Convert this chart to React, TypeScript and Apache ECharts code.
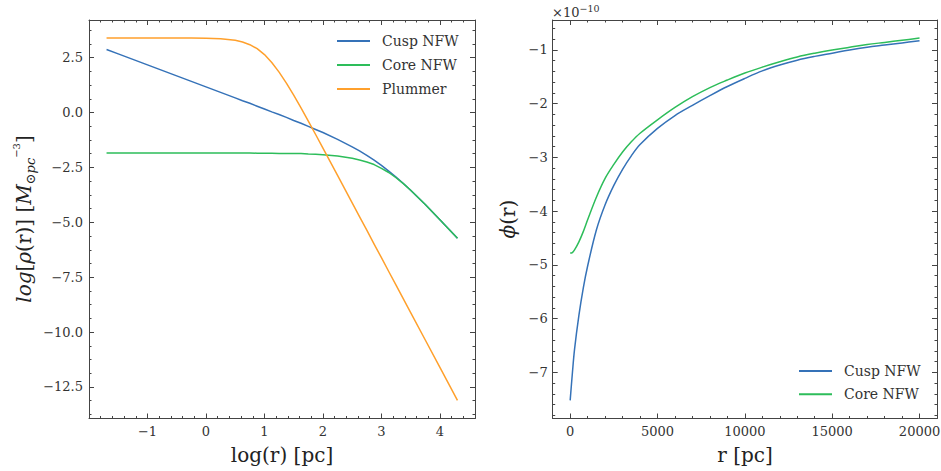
import React, { useEffect, useRef } from "react";
import * as echarts from "echarts";

// ---------- data: left panel (log density vs log radius) ----------
const logR = [
  -1.7, -1.5, -1.25, -1.0, -0.75, -0.5, -0.25, 0, 0.25, 0.5, 0.625, 0.75, 0.875, 1.0, 1.125, 1.25, 1.375, 1.5,
  1.625, 1.75, 1.875, 2.0, 2.25, 2.5, 2.625, 2.75, 2.875, 3.0, 3.125, 3.25, 3.375, 3.5, 3.75, 4.0, 4.15, 4.3,
];
const cuspRho = [
  2.87, 2.67, 2.42, 2.17, 1.92, 1.67, 1.42, 1.17, 0.92, 0.67, 0.54, 0.42, 0.29, 0.16, 0.03, -0.09, -0.22, -0.36,
  -0.49, -0.63, -0.77, -0.91, -1.22, -1.56, -1.75, -1.95, -2.17, -2.41, -2.67, -2.94, -3.23, -3.54, -4.19, -4.88, -5.3, -5.73,
];
const coreRho = [
  -1.84, -1.84, -1.84, -1.84, -1.84, -1.84, -1.84, -1.84, -1.84, -1.84, -1.84, -1.84, -1.85, -1.85, -1.85, -1.86, -1.86, -1.87,
  -1.87, -1.89, -1.9, -1.92, -1.98, -2.08, -2.16, -2.25, -2.37, -2.54, -2.73, -2.97, -3.24, -3.54, -4.19, -4.88, -5.3, -5.73,
];
const plummerRho = [
  3.39, 3.39, 3.39, 3.39, 3.39, 3.39, 3.39, 3.38, 3.36, 3.29, 3.21, 3.09, 2.91, 2.64, 2.28, 1.84, 1.34, 0.79,
  0.21, -0.39, -1.0, -1.62, -2.86, -4.11, -4.74, -5.36, -5.99, -6.61, -7.24, -7.86, -8.49, -9.11, -10.36, -11.61, -12.36, -13.11,
];

// ---------- data: right panel (potential, in units of 1e-10) ----------
const rPc = [
  0, 125, 250, 500, 750, 1000, 1500, 2000, 2500, 3000, 3500, 4000, 5000, 6000, 7000, 8000, 9000, 10000,
  11000, 12000, 13000, 14000, 15000, 16000, 17000, 18000, 19000, 20000,
];
const cuspPhi = [
  -7.52, -7.02, -6.57, -5.94, -5.43, -5.02, -4.35, -3.88, -3.52, -3.22, -2.97, -2.76, -2.46, -2.22, -2.03, -1.85, -1.68, -1.53,
  -1.39, -1.28, -1.19, -1.12, -1.06, -1.0, -0.95, -0.91, -0.87, -0.83,
];
const corePhi = [
  -4.78, -4.77, -4.72, -4.57, -4.38, -4.16, -3.74, -3.39, -3.13, -2.9, -2.71, -2.55, -2.3, -2.07, -1.87, -1.7, -1.56, -1.43,
  -1.32, -1.22, -1.13, -1.06, -1.0, -0.95, -0.9, -0.86, -0.82, -0.78,
];
const PHI_EXPONENT = "−10";

// ---------- tick labels ----------
const leftXTicks = [-1, 0, 1, 2, 3, 4];
const leftYTicks = [-12.5, -10, -7.5, -5, -2.5, 0, 2.5];
const rightXTicks = [0, 5000, 10000, 15000, 20000];
const rightYTicks = [-7, -6, -5, -4, -3, -2, -1];

// ---------- axis ranges ----------
const LX = [-2.0, 4.6];
const LY = [-13.935, 4.215];
const RX = [-1000, 21000];
const RY = [-7.857, -0.443];

const COLORS = { cusp: "#3572b8", core: "#2dbd5a", plummer: "#ffa02c" };
const FONT = "DejaVu Serif";
const AXIS_COLOR = "#444";
const TEXT_COLOR = "#333";

function minorTicks(lo: number, hi: number, step: number, majors: number[]) {
  const out: number[] = [];
  const start = Math.ceil(lo / step - 1e-9);
  for (let k = start; k * step < hi - 1e-9; k++) {
    const v = Math.round(k * step * 1e6) / 1e6;
    if (v <= lo + 1e-9) continue;
    if (majors.some((m) => Math.abs(m - v) < 1e-6)) continue;
    out.push(v);
  }
  return out;
}

const minus = (s: string) => s.replace("-", "−");

function axis(
  gridIndex: number,
  position: string,
  range: number[],
  ticks: number[],
  major: boolean,
  label: boolean,
  formatter?: (v: number) => string,
  margin = 6
) {
  return {
    type: "value",
    gridIndex,
    position,
    min: range[0],
    max: range[1],
    scale: true,
    silent: true,
    axisLine: { show: major, onZero: false, lineStyle: { color: AXIS_COLOR, width: 1 } },
    axisTick: {
      show: true,
      inside: true,
      length: major ? 5 : 2.5,
      customValues: ticks,
      lineStyle: { color: AXIS_COLOR, width: 1 },
    },
    axisLabel: label
      ? {
          show: true,
          customValues: ticks,
          formatter,
          margin,
          color: TEXT_COLOR,
          fontFamily: FONT,
          fontSize: 13,
        }
      : { show: false },
    splitLine: { show: false },
    minorTick: { show: false },
  };
}

function lineSeries(
  name: string,
  color: string,
  xIdx: number,
  xs: number[],
  ys: number[],
  z: number,
  smooth: number | boolean
) {
  return {
    name,
    type: "line",
    xAxisIndex: xIdx,
    yAxisIndex: xIdx,
    data: xs.map((x, i) => [x, ys[i]]),
    showSymbol: false,
    symbol: "none",
    smooth,
    lineStyle: { color, width: 1.5, join: "round" },
    itemStyle: { color },
    z,
  };
}

export default function App() {
  const ref = useRef<HTMLDivElement>(null);

  useEffect(() => {
    if (!ref.current) return;
    const chart = echarts.init(ref.current, undefined, { renderer: "svg" });

    const lxMinor = minorTicks(LX[0], LX[1], 0.2, leftXTicks);
    const lyMinor = minorTicks(LY[0], LY[1], 0.625, leftYTicks);
    const rxMinor = minorTicks(RX[0], RX[1], 1000, rightXTicks);
    const ryMinor = minorTicks(RY[0], RY[1], 0.2, rightYTicks);

    const fmtLX = (v: number) => minus(String(v));
    const fmtLY = (v: number) => minus(v.toFixed(1));
    const fmtRX = (v: number) => String(v);
    const fmtRY = (v: number) => minus(String(v));

    const legendText = {
      fontFamily: FONT,
      fontSize: 14,
      color: TEXT_COLOR,
      lineHeight: 16,
      padding: [0, 0, 0, 7],
    };

    const titleStyle = { fontFamily: FONT, fontSize: 20, fill: "#222" };

    chart.setOption({
      animation: false,
      backgroundColor: "#ffffff",
      grid: [
        { left: 89, top: 20, width: 386, height: 398.5, containLabel: false, outerBoundsMode: "none" },
        { left: 552.7, top: 20, width: 384.3, height: 398.5, containLabel: false, outerBoundsMode: "none" },
      ],
      xAxis: [
        axis(0, "bottom", LX, leftXTicks, true, true, fmtLX, 6),
        axis(0, "bottom", LX, lxMinor, false, false),
        axis(0, "top", LX, leftXTicks, true, false),
        axis(0, "top", LX, lxMinor, false, false),
        axis(1, "bottom", RX, rightXTicks, true, true, fmtRX, 6),
        axis(1, "bottom", RX, rxMinor, false, false),
        axis(1, "top", RX, rightXTicks, true, false),
        axis(1, "top", RX, rxMinor, false, false),
      ],
      yAxis: [
        axis(0, "left", LY, leftYTicks, true, true, fmtLY, 6),
        axis(0, "left", LY, lyMinor, false, false),
        axis(0, "right", LY, leftYTicks, true, false),
        axis(0, "right", LY, lyMinor, false, false),
        axis(1, "left", RY, rightYTicks, true, true, fmtRY, 5),
        axis(1, "left", RY, ryMinor, false, false),
        axis(1, "right", RY, rightYTicks, true, false),
        axis(1, "right", RY, ryMinor, false, false),
      ],
      legend: [
        {
          data: ["Cusp NFW", "Core NFW", "Plummer"],
          orient: "vertical",
          left: 337,
          top: 33,
          padding: 0,
          itemWidth: 33,
          itemHeight: 2,
          itemGap: 8,
          icon: "rect",
          selectedMode: false,
          textStyle: legendText,
        },
        {
          data: ["Cusp NFW", "Core NFW"],
          orient: "vertical",
          left: 799,
          top: 363,
          padding: 0,
          itemWidth: 33,
          itemHeight: 2,
          itemGap: 7.3,
          icon: "rect",
          selectedMode: false,
          textStyle: legendText,
        },
      ],
      series: [
        lineSeries("Cusp NFW", COLORS.cusp, 0, logR, cuspRho, 3, false),
        lineSeries("Core NFW", COLORS.core, 0, logR, coreRho, 4, false),
        lineSeries("Plummer", COLORS.plummer, 0, logR, plummerRho, 5, false),
        lineSeries("Cusp NFW", COLORS.cusp, 4, rPc, cuspPhi, 3, 0.35),
        lineSeries("Core NFW", COLORS.core, 4, rPc, corePhi, 4, 0.35),
      ],
      graphic: [
        {
          type: "text",
          x: 282,
          y: 455,
          silent: true,
          style: { ...titleStyle, text: "log(r) [pc]", align: "center", verticalAlign: "middle" },
        },
        {
          type: "text",
          x: 745,
          y: 455,
          silent: true,
          style: { ...titleStyle, text: "r [pc]", align: "center", verticalAlign: "middle" },
        },
        {
          type: "text",
          x: 24,
          y: 219,
          rotation: Math.PI / 2,
          silent: true,
          style: {
            ...titleStyle,
            lineHeight: 26,
            text: "{i|log}[{i|ρ}(r)] [{i|M}{sub|⊙pc}{sup|−3}]",
            align: "center",
            verticalAlign: "middle",
            rich: {
              i: { fontStyle: "italic", fontFamily: FONT, fontSize: 20, lineHeight: 26 },
              sub: { fontStyle: "italic", fontFamily: FONT, fontSize: 13, lineHeight: 13, verticalAlign: "bottom" },
              sup: { fontFamily: FONT, fontSize: 10, lineHeight: 22, verticalAlign: "top" },
            },
          },
        },
        {
          type: "text",
          x: 508,
          y: 219,
          rotation: Math.PI / 2,
          silent: true,
          style: {
            ...titleStyle,
            text: "{i|ϕ}(r)",
            align: "center",
            verticalAlign: "middle",
            rich: { i: { fontStyle: "italic", fontFamily: FONT, fontSize: 20 } },
          },
        },
        {
          type: "text",
          x: 552,
          y: 12,
          silent: true,
          style: {
            fontFamily: FONT,
            fontSize: 13,
            fill: TEXT_COLOR,
            lineHeight: 18,
            text: "×10{sup|" + PHI_EXPONENT + "}",
            align: "left",
            verticalAlign: "middle",
            rich: { sup: { fontFamily: FONT, fontSize: 9.5, lineHeight: 9.5, verticalAlign: "top" } },
          },
        },
      ],
    });

    return () => chart.dispose();
  }, []);

  return (
    <div
      ref={ref}
      style={{ position: "fixed", left: 0, top: 0, width: 941, height: 471, background: "#fff" }}
    />
  );
}
